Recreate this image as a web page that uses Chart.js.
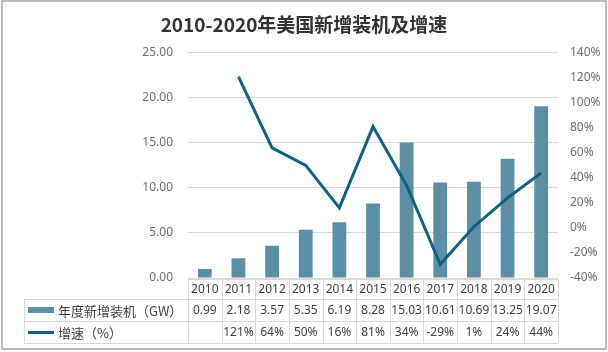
<!DOCTYPE html>
<html>
<head>
<meta charset="utf-8">
<script src="https://cdn.jsdelivr.net/npm/chart.js@4"></script>
<style>
  html, body { margin: 0; padding: 0; background: #fff; }
  canvas { display: block; }
</style>
</head>
<body>
<canvas id="chart_main" width="608" height="352"></canvas>
<script>
"use strict";

// データ
const years     = ['2010', '2011', '2012', '2013', '2014', '2015', '2016', '2017', '2018', '2019', '2020'];
const newGW     = [0.99, 2.18, 3.57, 5.35, 6.19, 8.28, 15.03, 10.61, 10.69, 13.25, 19.07];
const growthPct = [null, 121, 64, 50, 16, 81, 34, -29, 1, 24, 44];
const gwLabel   = '年度新增装机（GW）';
const pctLabel  = '增速（%）';

const barColor  = '#5b8fa6',
      lineColor = '#0e6283',
      gridColor = '#d9d9d9',
      textColor = '#404040';

// 表 + 枠
const tablePlugin = {
  id: 'dataTable',
  afterDraw(chart) {
    const ctx = chart.ctx, a = chart.chartArea, x = chart.scales.x;
    const colW = (a.right - a.left) / years.length;
    const top = a.bottom + 1, r1 = top + 20, r2 = r1 + 22, r3 = r2 + 22;
    const legL = 24;
    ctx.save();
    ctx.strokeStyle = gridColor;
    ctx.lineWidth = 1;
    ctx.beginPath();
    // 横線
    ctx.moveTo(a.left, top + 0.5);   ctx.lineTo(a.right, top + 0.5);
    [r1, r2, r3].forEach(y => { ctx.moveTo(legL, y + 0.5); ctx.lineTo(a.right, y + 0.5); });
    // 縦線
    ctx.moveTo(legL + 0.5, r1); ctx.lineTo(legL + 0.5, r3);
    for (let i = 0; i <= years.length; i++) {
      const xx = Math.round(a.left + colW * i) + 0.5;
      ctx.moveTo(xx, top); ctx.lineTo(xx, r3);
    }
    ctx.stroke();

    ctx.fillStyle = textColor;
    ctx.font = '12px "Noto Sans", sans-serif';
    ctx.textAlign = 'center';
    ctx.textBaseline = 'middle';
    years.forEach((y, i) => {
      const cx = x.getPixelForValue(i);
      ctx.fillText(y, cx, (top + r1) / 2 + 1);
      ctx.fillText(newGW[i].toFixed(2), cx, (r1 + r2) / 2 + 1);
      if (growthPct[i] !== null) ctx.fillText(growthPct[i] + '%', cx, (r2 + r3) / 2 + 1);
    });

    // 凡例
    ctx.font = '13px "Noto Sans CJK SC", sans-serif';
    ctx.textAlign = 'left';
    ctx.fillStyle = barColor;
    ctx.fillRect(28, (r1 + r2) / 2 - 3, 26, 6);
    ctx.fillStyle = textColor;
    ctx.fillText(gwLabel, 58, (r1 + r2) / 2 + 1);
    ctx.strokeStyle = lineColor;
    ctx.lineWidth = 3;
    ctx.beginPath();
    ctx.moveTo(28, (r2 + r3) / 2 + 0.5); ctx.lineTo(54, (r2 + r3) / 2 + 0.5);
    ctx.stroke();
    ctx.fillText(pctLabel, 58, (r2 + r3) / 2 + 1);

    // 外枠
    ctx.strokeStyle = '#a6a6a6';
    ctx.lineWidth = 1.5;
    ctx.strokeRect(2, 1, 604, 348);
    ctx.restore();
  }
};

const ctx = document.getElementById('chart_main');
const chart = new Chart(ctx, {
  type: 'bar',
  data: {
    labels: years,
    datasets: [{
      type: 'line',
      label: pctLabel,
      data: growthPct,
      yAxisID: 'y1',
      borderColor: lineColor,
      borderWidth: 3,
      pointRadius: 0,
      tension: 0,
      order: 0,
    }, {
      type: 'bar',
      label: gwLabel,
      data: newGW,
      yAxisID: 'y',
      backgroundColor: barColor,
      barPercentage: 0.41,
      categoryPercentage: 1,
      order: 1,
    }],
  },
  options: {
    responsive: false,
    animation: false,
    layout: { padding: { left: 0, right: 0, top: 0, bottom: 74 } },
    plugins: {
      legend: { display: false },
      tooltip: { enabled: false },
      title: {
        display: true,
        text: '2010-2020年美国新增装机及增速',
        color: '#333',
        font: { family: '"Noto Sans CJK SC", sans-serif', size: 19, weight: 'bold' },
        padding: { top: 13, bottom: 17 },
      },
    },
    scales: {
      x: { display: false },
      y: {
        position: 'left',
        min: 0, max: 25,
        ticks: {
          stepSize: 5,
          padding: 15,
          color: '#6e6e6e',
          font: { family: '"Noto Sans", sans-serif', size: 12 },
          callback: v => v.toFixed(2),
        },
        grid: { color: gridColor, drawTicks: false },
        border: { display: false },
        afterFit(s) { s.width = 188; },
      },
      y1: {
        position: 'right',
        min: -40, max: 140,
        ticks: {
          stepSize: 20,
          padding: 12,
          color: '#6e6e6e',
          font: { family: '"Noto Sans", sans-serif', size: 12 },
          callback: v => v + '%',
        },
        grid: { display: false, drawTicks: false },
        border: { display: false },
        afterFit(s) { s.width = 608 - 558; },
      },
    },
  },
  plugins: [tablePlugin],
});
</script>
</body>
</html>
